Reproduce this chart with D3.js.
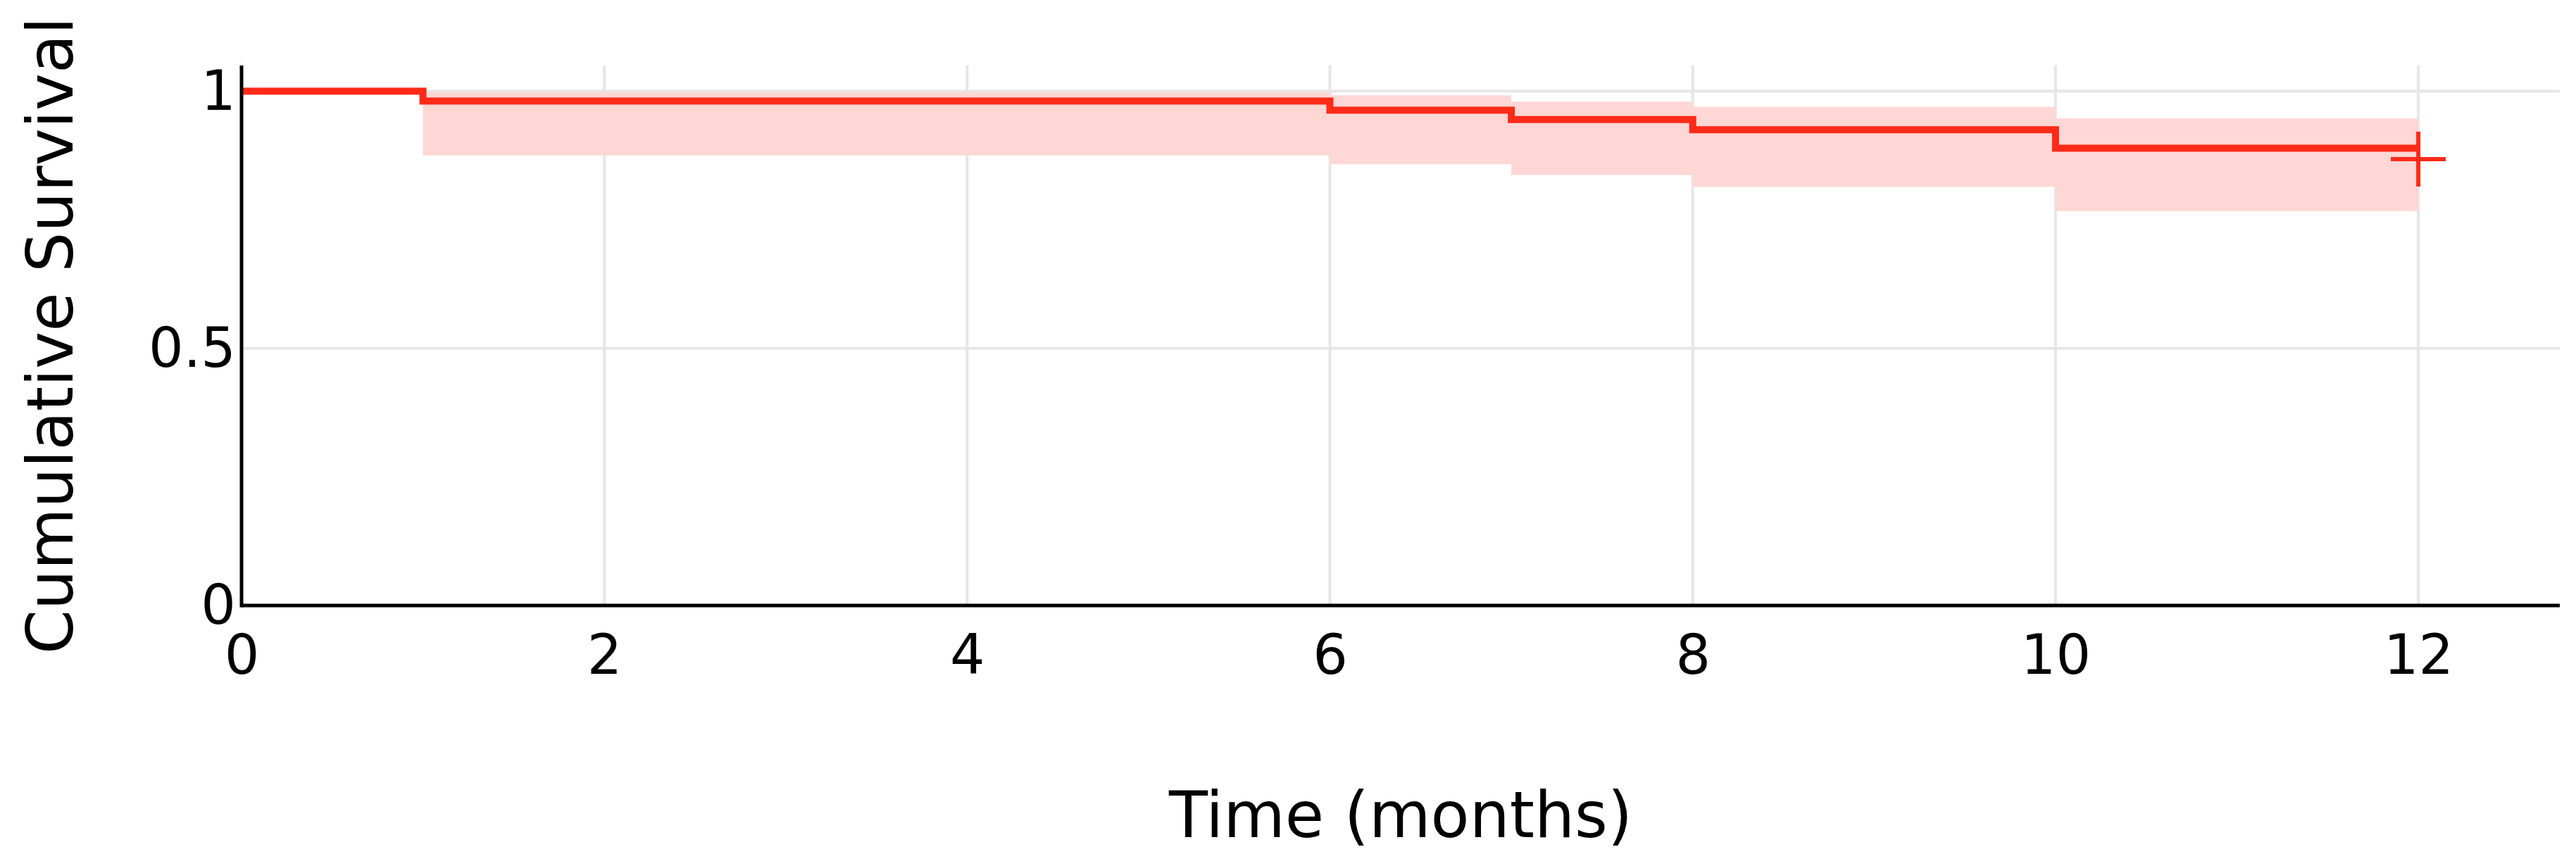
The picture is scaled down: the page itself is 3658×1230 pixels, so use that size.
<!DOCTYPE html>
<html>
<head>
<meta charset="utf-8">
<script src="https://cdn.jsdelivr.net/npm/d3@7"></script>
<style>
  html, body { margin: 0; padding: 0; background: #ffffff; }
  svg { display: block; }
  text { font-family: "DejaVu Sans", Verdana, sans-serif; fill: #000; }
</style>
</head>
<body>
<svg id="chart" width="3658" height="1230"></svg>
<script>
// ---- data ----
const times    = [0, 1, 6, 7, 8, 10, 12];
const survival = [1, 0.981, 0.963, 0.945, 0.925, 0.889, 0.889];
const ciUpper  = [1, 0.998, 0.992, 0.980, 0.970, 0.947, 0.947];
const ciLower  = [1, 0.875, 0.858, 0.837, 0.814, 0.767, 0.767];
const censorTimes  = [12];
const censorValues = [0.868];
const xTicks = [0, 2, 4, 6, 8, 10, 12];
const yTicks = [0, 0.5, 1];
const yTickLabels = ["0", "0.5", "1"];
const xTitle = "Time (months)";
const yTitle = "Cumulative Survival";

// ---- layout ----
const plotL = 343, plotR = 3635, plotT = 93, plotB = 860;
const svg = d3.select("#chart");

const x = d3.scaleLinear().domain([0, 12.78]).range([plotL, plotR]);
const y = d3.scaleLinear().domain([0, 1.05]).range([plotB, plotT]);

const red = "#ff2a18";
const shade = "#ffd7d5";
const grid = "#e6e6e6";

// gridlines
svg.append("g").selectAll("line")
  .data(xTicks.filter(d => d !== 0))
  .join("line")
  .attr("x1", d => x(d)).attr("x2", d => x(d))
  .attr("y1", plotT).attr("y2", plotB)
  .attr("stroke", grid).attr("stroke-width", 4);

svg.append("g").selectAll("line")
  .data(yTicks.filter(d => d !== 0))
  .join("line")
  .attr("x1", plotL).attr("x2", plotR)
  .attr("y1", d => y(d)).attr("y2", d => y(d))
  .attr("stroke", grid).attr("stroke-width", 4);

const rows = times.map((t, i) => ({t, s: survival[i], u: ciUpper[i], l: ciLower[i]}));

// confidence band
const area = d3.area()
  .x(d => x(d.t))
  .y0(d => y(d.l))
  .y1(d => y(d.u))
  .curve(d3.curveStepAfter);
svg.append("path")
  .datum(rows)
  .attr("d", area)
  .attr("fill", shade)
  .attr("stroke", "none");

// survival step line
const line = d3.line()
  .x(d => x(d.t))
  .y(d => y(d.s))
  .curve(d3.curveStepAfter);
svg.append("path")
  .datum(rows)
  .attr("d", line)
  .attr("fill", "none")
  .attr("stroke", red)
  .attr("stroke-width", 10)
  .attr("stroke-linejoin", "miter");

// censor marks
const half = 39;
const cg = svg.append("g").selectAll("g")
  .data(censorTimes.map((t, i) => ({t, v: censorValues[i]})))
  .join("g");
cg.append("line")
  .attr("x1", d => x(d.t) - half).attr("x2", d => x(d.t) + half)
  .attr("y1", d => y(d.v)).attr("y2", d => y(d.v))
  .attr("stroke", red).attr("stroke-width", 6);
cg.append("line")
  .attr("x1", d => x(d.t)).attr("x2", d => x(d.t))
  .attr("y1", d => y(d.v) - half).attr("y2", d => y(d.v) + half)
  .attr("stroke", red).attr("stroke-width", 6);

// axes
const xAxis = d3.axisBottom(x).tickValues(xTicks).tickSize(0).tickPadding(0).tickFormat(d3.format("d"));
const gx = svg.append("g").attr("transform", `translate(0,${plotB})`).call(xAxis);
gx.select(".domain").remove();
gx.selectAll("text")
  .attr("y", 97).attr("dy", null)
  .style("font-size", "78px")
  .style("font-family", "'DejaVu Sans', Verdana, sans-serif")
  .attr("fill", "#000");

const yAxis = d3.axisLeft(y).tickValues(yTicks).tickSize(0).tickPadding(0)
  .tickFormat((d, i) => yTickLabels[i]);
const gy = svg.append("g").attr("transform", `translate(${plotL},0)`).call(yAxis);
gy.select(".domain").remove();
gy.selectAll("text")
  .attr("x", -8).attr("dy", "0.33em")
  .style("font-size", "78px")
  .style("font-family", "'DejaVu Sans', Verdana, sans-serif")
  .attr("fill", "#000");

// axis lines
svg.append("line")
  .attr("x1", plotL).attr("x2", plotR)
  .attr("y1", plotB).attr("y2", plotB)
  .attr("stroke", "#000").attr("stroke-width", 5);
svg.append("line")
  .attr("x1", plotL).attr("x2", plotL)
  .attr("y1", plotT).attr("y2", plotB + 2.5)
  .attr("stroke", "#000").attr("stroke-width", 5);

// titles
svg.append("text")
  .attr("x", (plotL + plotR) / 2).attr("y", 1189)
  .attr("text-anchor", "middle")
  .style("font-size", "90px")
  .text(xTitle);

svg.append("text")
  .attr("transform", `translate(103,${(plotT + plotB) / 2}) rotate(-90)`)
  .attr("text-anchor", "middle")
  .style("font-size", "90px")
  .text(yTitle);
</script>
</body>
</html>
